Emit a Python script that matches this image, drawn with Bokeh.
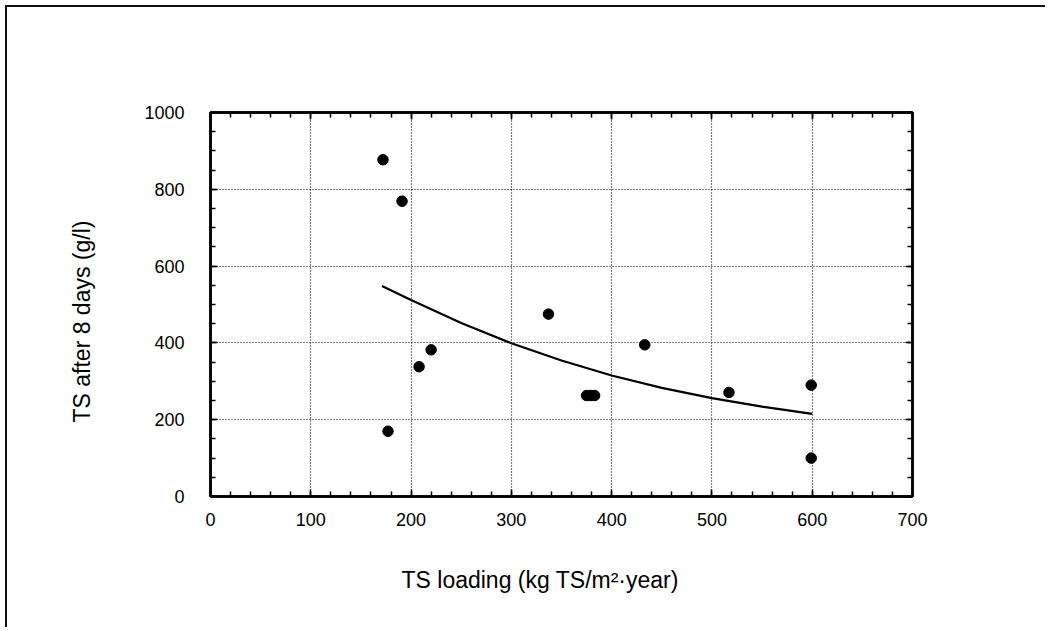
from bokeh.plotting import figure
from bokeh.models import Range1d, LinearAxis, SingleIntervalTicker, Title
from bokeh.embed import file_html
from bokeh.resources import INLINE

# ---- data ----
load_x = [172, 191, 177, 208, 220, 337, 375, 379, 383, 433, 517, 599, 599]
ts_y = [877, 769, 170, 338, 382, 475, 263, 263, 263, 395, 271, 290, 100]

fit_x = [171, 200, 250, 300, 350, 400, 450, 500, 550, 600]
fit_y = [548, 512, 452, 399, 354, 315, 283, 256, 234, 215]

x_title = "TS loading (kg TS/m\u00b2\u00b7year)"
y_title = "TS after 8 days (g/l)"

# ---- layout (page pixels of the plot frame) ----
FL, FR, FT, FB = 210, 912, 112, 497
X0, X1, Y0, Y1 = 0, 700, 0, 1000
MARG = 5
OFF = MARG + 2  # page offset of the canvas (margin + border)
W, H = 1040, 622

p = figure(width=W, height=H, x_range=Range1d(X0, X1), y_range=Range1d(Y0, Y1),
           output_backend="svg", toolbar_location=None,
           min_border_left=FL - OFF, min_border_right=W - (FR - OFF),
           min_border_top=FT - OFF, min_border_bottom=H - (FB - OFF))
p.styles = {"border-top": "2px solid #111", "border-left": "2px solid #111",
            "margin-top": f"{MARG}px", "margin-left": f"{MARG}px"}
p.background_fill_color = "white"
p.border_fill_color = "white"
p.outline_line_color = "black"
p.outline_line_width = 2.5

xt = SingleIntervalTicker(interval=100, num_minor_ticks=5)
yt = SingleIntervalTicker(interval=200, num_minor_ticks=4)

font = "Liberation Sans"


def style_axis(ax):
    ax.axis_line_color = "black"
    ax.axis_line_width = 2.5
    ax.major_tick_in = 7
    ax.major_tick_out = 0
    ax.minor_tick_in = 5
    ax.minor_tick_out = 0
    ax.major_tick_line_color = "black"
    ax.minor_tick_line_color = "black"
    ax.major_tick_line_width = 1.5
    ax.minor_tick_line_width = 1.5
    ax.major_label_text_font = font
    ax.major_label_text_font_size = "18px"
    ax.major_label_text_color = "black"


p.xaxis.ticker = xt
p.yaxis.ticker = yt
style_axis(p.xaxis[0])
style_axis(p.yaxis[0])
p.xaxis.major_label_standoff = 16
p.yaxis.major_label_standoff = 26

top = LinearAxis(ticker=xt, major_label_overrides={v: "" for v in range(0, 701, 100)})
right = LinearAxis(ticker=yt, major_label_overrides={v: "" for v in range(0, 1001, 200)})
style_axis(top)
style_axis(right)
p.add_layout(top, "above")
p.add_layout(right, "right")

for g in (p.xgrid[0], p.ygrid[0]):
    g.grid_line_color = "black"
    g.grid_line_width = 1.2
    g.grid_line_dash = "1 2"
p.xgrid.ticker = xt
p.ygrid.ticker = yt

p.line(fit_x, fit_y, line_color="black", line_width=2.2)
p.scatter(load_x, ts_y, size=10.5, color="black")

xt_title = Title(text=x_title, align="left", offset=191, standoff=73,
                 text_font=font, text_font_size="23px", text_font_style="normal",
                 text_color="black")
p.add_layout(xt_title, "below")

yt_title = Title(text=y_title, align="left", offset=74, standoff=94,
                 text_font=font, text_font_size="23px", text_font_style="normal",
                 text_color="black")
p.add_layout(yt_title, "left")

open("out.html", "w").write(file_html(p, INLINE))
